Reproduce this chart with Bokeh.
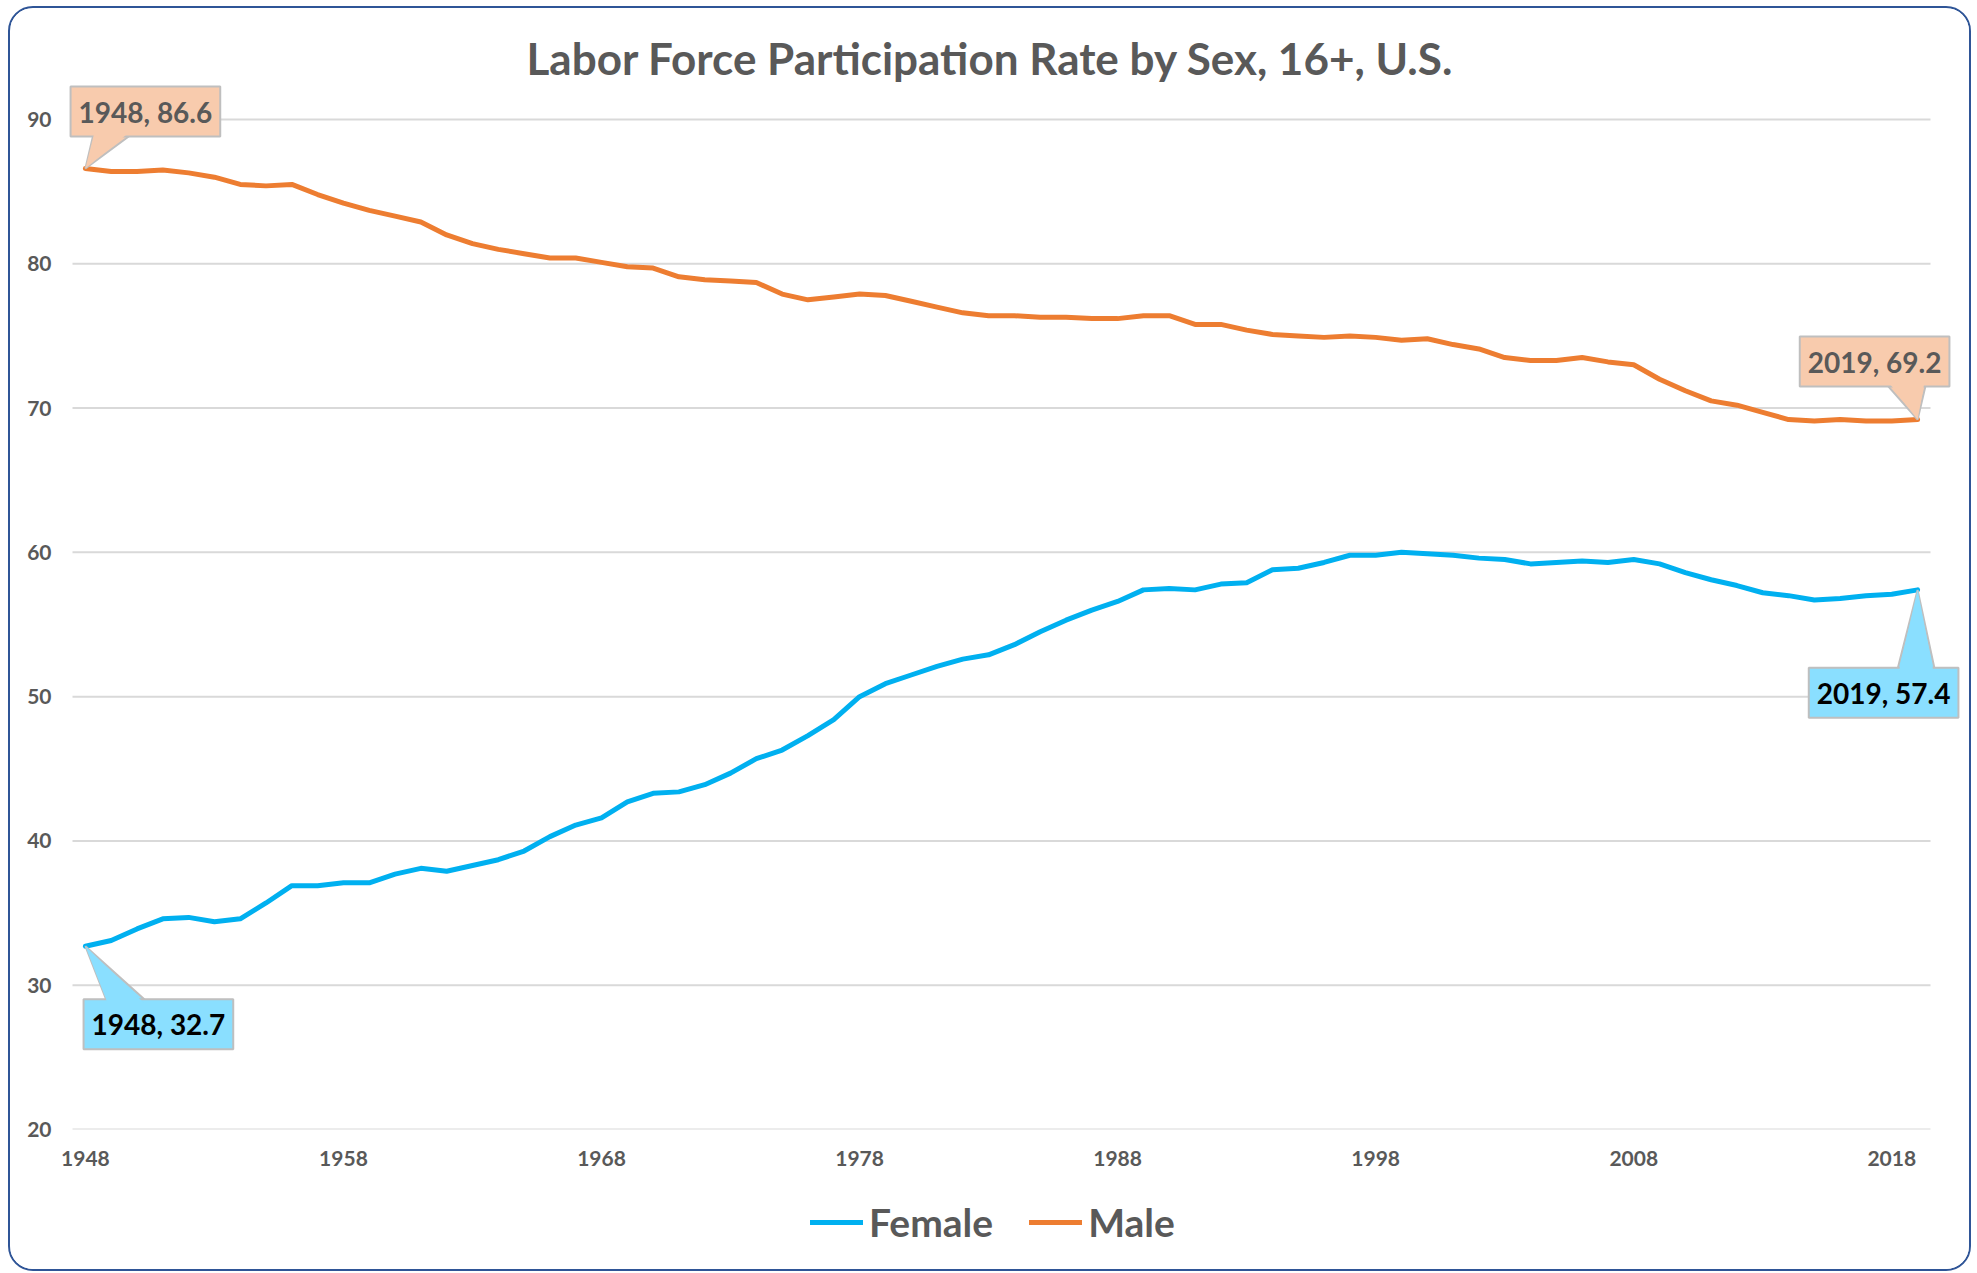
from bokeh.plotting import figure
from bokeh.layouts import column
from bokeh.models import Range1d, FixedTicker, Legend, LegendItem, Label, PolyAnnotation
from bokeh.embed import file_html
from bokeh.resources import INLINE

years = list(range(1948, 2020))
female = [32.7, 33.1, 33.9, 34.6, 34.7, 34.4, 34.6, 35.7, 36.9, 36.9,
          37.1, 37.1, 37.7, 38.1, 37.9, 38.3, 38.7, 39.3, 40.3, 41.1,
          41.6, 42.7, 43.3, 43.4, 43.9, 44.7, 45.7, 46.3, 47.3, 48.4,
          50.0, 50.9, 51.5, 52.1, 52.6, 52.9, 53.6, 54.5, 55.3, 56.0,
          56.6, 57.4, 57.5, 57.4, 57.8, 57.9, 58.8, 58.9, 59.3, 59.8,
          59.8, 60.0, 59.9, 59.8, 59.6, 59.5, 59.2, 59.3, 59.4, 59.3,
          59.5, 59.2, 58.6, 58.1, 57.7, 57.2, 57.0, 56.7, 56.8, 57.0,
          57.1, 57.4]
male = [86.6, 86.4, 86.4, 86.5, 86.3, 86.0, 85.5, 85.4, 85.5, 84.8,
        84.2, 83.7, 83.3, 82.9, 82.0, 81.4, 81.0, 80.7, 80.4, 80.4,
        80.1, 79.8, 79.7, 79.1, 78.9, 78.8, 78.7, 77.9, 77.5, 77.7,
        77.9, 77.8, 77.4, 77.0, 76.6, 76.4, 76.4, 76.3, 76.3, 76.2,
        76.2, 76.4, 76.4, 75.8, 75.8, 75.4, 75.1, 75.0, 74.9, 75.0,
        74.9, 74.7, 74.8, 74.4, 74.1, 73.5, 73.3, 73.3, 73.5, 73.2,
        73.0, 72.0, 71.2, 70.5, 70.2, 69.7, 69.2, 69.1, 69.2, 69.1,
        69.1, 69.2]
x_ticks = [1948, 1958, 1968, 1978, 1988, 1998, 2008, 2018]
y_ticks = [20, 30, 40, 50, 60, 70, 80, 90]
series_names = ["Female", "Male"]
title_text = "Labor Force Participation Rate by Sex, 16+, U.S."

FEMALE_C = "#00B0F0"
MALE_C = "#ED7D31"
GRAY = "#595959"
GRID = "#D9D9D9"
FONT = "Lato"

# plot-area geometry (pixels per unit)
PX_X = 1858 / 72.0
PX_Y = 1010 / 70.0
FW, FH = 1902, 1045
X0 = years[0] - 0.5 - 6 / PX_X
X1 = X0 + FW / PX_X
Y0 = y_ticks[0]
Y1 = Y0 + FH / PX_Y

p = figure(frame_width=FW, frame_height=FH,
           x_range=Range1d(X0, X1), y_range=Range1d(Y0, Y1),
           output_backend="svg", toolbar_location=None,
           min_border_left=56, min_border_right=1,
           min_border_top=76, min_border_bottom=60,
           title=title_text)
p.background_fill_color = "white"
p.border_fill_color = "white"
p.outline_line_color = None

p.title.text_font = FONT
p.title.text_font_style = "bold"
p.title.text_font_size = "44px"
p.title.text_color = GRAY
p.title.align = "left"
p.title.offset = 460
p.title.standoff = 2

for ax in (p.xaxis[0], p.yaxis[0]):
    ax.axis_line_color = None
    ax.major_tick_line_color = None
    ax.minor_tick_line_color = None
    ax.major_tick_out = 0
    ax.major_tick_in = 0
    ax.major_label_text_font = FONT
    ax.major_label_text_font_style = "bold"
    ax.major_label_text_font_size = "21px"
    ax.major_label_text_color = GRAY
p.xaxis.ticker = FixedTicker(ticks=x_ticks)
p.yaxis.ticker = FixedTicker(ticks=y_ticks)
p.xaxis.major_label_standoff = 21
p.yaxis.major_label_standoff = 15
p.xgrid.grid_line_color = None
p.ygrid.grid_line_color = None

# horizontal gridlines limited to the category span
p.segment(x0=[years[0] - 0.5] * len(y_ticks), x1=[years[-1] + 0.5] * len(y_ticks),
          y0=y_ticks, y1=y_ticks, line_color=GRID, line_width=2)

line_style = dict(line_width=5, line_join="round", line_cap="round")
p.line(years, female, line_color=FEMALE_C, **line_style)
p.line(years, male, line_color=MALE_C, **line_style)


def callout(xd, yd, text, fill, tcolor, box_dx, box_dy, base, box_side):
    xs = [xd] + [xd + dx / PX_X for dx, dy in base]
    ys = [yd] + [yd + dy / PX_Y for dx, dy in base]
    p.add_layout(PolyAnnotation(xs=xs, ys=ys, fill_color=fill, fill_alpha=1,
                                line_color="#BFBFBF", line_alpha=1, line_width=2))
    p.add_layout(Label(x=xd, y=yd, x_offset=box_dx, y_offset=box_dy, text=text,
                       text_align="center", text_baseline="middle",
                       text_font=FONT, text_font_style="bold", text_font_size="28px",
                       text_color=tcolor, background_fill_color=fill,
                       border_line_color="#BFBFBF", border_line_width=2, padding=8))
    ext = 3 * box_side
    xs2 = [xd, xs[1] + 1.2 / PX_X, xs[2] - 1.2 / PX_X]
    ys2 = [yd] + [yd + (dy + ext) / PX_Y for dx, dy in base]
    p.add_layout(PolyAnnotation(xs=xs2, ys=ys2, fill_color=fill, fill_alpha=1,
                                line_alpha=0))


callout(years[0], male[0], f"{years[0]}, {male[0]}", "#F8CBAD", GRAY, 60, 57,
        [(8, 34), (46, 34)], 1)
callout(years[0], female[0], f"{years[0]}, {female[0]}", "#8ADFFF", "black", 73, -78,
        [(21, -54), (60, -54)], -1)
callout(years[-1], male[-1], f"{years[-1]}, {male[-1]}", "#F8CBAD", GRAY, -43, 58,
        [(-30, 34), (8, 34)], 1)
callout(years[-1], female[-1], f"{years[-1]}, {female[-1]}", "#8ADFFF", "black", -34, -103,
        [(-20, -79), (17, -79)], -1)

# legend strip below the chart (same series, drawn out of view; only the legend shows)
lf = figure(width=1959, height=80, output_backend="svg", toolbar_location=None,
            x_axis_type=None, y_axis_type=None, min_border=0,
            x_range=Range1d(0, 1), y_range=Range1d(0, 1))
lf.grid.grid_line_color = None
lf.outline_line_color = None
lf.background_fill_color = "white"
lf.border_fill_color = "white"
lg_f = lf.line(years, female, line_color=FEMALE_C, **line_style)
lg_m = lf.line(years, male, line_color=MALE_C, **line_style)
legend = Legend(items=[LegendItem(label=series_names[0], renderers=[lg_f]),
                       LegendItem(label=series_names[1], renderers=[lg_m])],
                orientation="horizontal", location=(744, 24),
                label_text_font=FONT, label_text_font_style="bold",
                label_text_font_size="39px", label_text_color=GRAY,
                glyph_width=53, label_standoff=6, spacing=36, padding=0, margin=0,
                border_line_color=None, background_fill_alpha=0)
lf.add_layout(legend)

layout = column(p, lf, spacing=0,
                styles={"border": "2px solid #2F5597", "border-radius": "25px",
                        "overflow": "hidden", "margin-left": "8px", "margin-top": "6px",
                        "background-color": "white"})

open("out.html", "w").write(file_html(layout, INLINE))
